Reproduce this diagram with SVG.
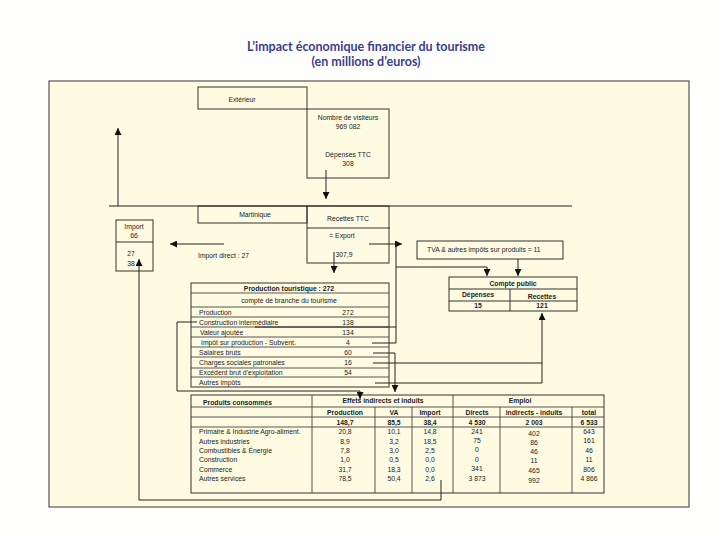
<svg xmlns="http://www.w3.org/2000/svg" width="720" height="540" viewBox="0 0 720 540">
<defs>
<style>
.t{font-family:"Liberation Sans","DejaVu Sans",sans-serif;font-size:6.8px;fill:#222}
.b{font-weight:bold}
.m{text-anchor:middle}
.title{font-family:Lato,"Liberation Sans",sans-serif;font-size:12.5px;font-weight:bold;fill:#3a3f8c;text-anchor:middle}
.box{fill:none;stroke:#333;stroke-width:1}
.ln{fill:none;stroke:#444;stroke-width:0.9}
.cn{fill:none;stroke:#222;stroke-width:1}
</style>
<marker id="ah" viewBox="0 0 10 10" refX="10" refY="5" markerWidth="7" markerHeight="7" markerUnits="userSpaceOnUse" orient="auto">
<path d="M0,0 L10,5 L0,10 z" fill="#111"/>
</marker>
</defs>
<rect x="0" y="0" width="720" height="540" fill="#fefefc"/>
<text class="title" x="366" y="51">L’impact économique financier du tourisme</text>
<text class="title" x="366" y="66">(en millions d’euros)</text>
<rect x="49" y="81" width="640" height="426" fill="#fefbe2" stroke="#555" stroke-width="1.2"/>

<g id="exterieur">
<rect class="box" x="198" y="87" width="109" height="22"/>
<text class="t m" x="242" y="102">Extérieur</text>
</g>
<g id="visiteurs">
<rect class="box" x="307" y="109" width="82" height="69"/>
<text class="t m" x="348" y="120">Nombre de visiteurs</text>
<text class="t m" x="348" y="129">969 082</text>
<text class="t m" x="348" y="157">Dépenses TTC</text>
<text class="t m" x="348" y="165.5">308</text>
</g>
<g id="martinique">
<rect class="box" x="198" y="206" width="109" height="17"/>
<text class="t m" x="255" y="217">Martinique</text>
</g>
<g id="recettes">
<rect class="box" x="307" y="206" width="82" height="57"/>
<line class="box" x1="307" y1="228" x2="390" y2="228"/>
<text class="t m" x="348" y="221">Recettes TTC</text>
<text class="t m" x="342" y="237.5">= Export</text>
<text class="t m" x="344" y="257">307,9</text>
</g>
<g id="import">
<rect class="box" x="116" y="220" width="37" height="51"/>
<line class="box" x1="116" y1="242" x2="153" y2="242"/>
<text class="t m" x="134" y="228.5">Import</text>
<text class="t m" x="134" y="237.5">66</text>
<text class="t m" x="131" y="256">27</text>
<text class="t m" x="131" y="266">38</text>
</g>
<g id="import-direct">
<text class="t" x="198" y="258">Import direct : 27</text>
</g>
<g id="tva">
<rect class="box" x="417" y="241" width="146" height="18"/>
<text class="t" x="427" y="252">TVA &amp; autres impôts sur produits  = 11</text>
</g>
<g id="compte-public">
<rect class="box" x="449" y="277" width="128" height="34"/>
<line class="box" x1="449" y1="289" x2="577" y2="289"/>
<line class="box" x1="449" y1="301" x2="577" y2="301"/>
<line class="box" x1="510" y1="289" x2="510" y2="311"/>
<text class="t b m" x="513" y="286">Compte public</text>
<text class="t b m" x="478" y="296.5">Dépenses</text>
<text class="t b m" x="542" y="298.5">Recettes</text>
<text class="t b m" x="478" y="308">15</text>
<text class="t b m" x="542" y="308">121</text>
</g>
<g id="production">
<rect class="box" x="191" y="283" width="198" height="104"/>
<g class="ln">
<line x1="191" y1="293" x2="389" y2="293"/>
<line x1="191" y1="307" x2="389" y2="307"/>
<line x1="191" y1="317" x2="389" y2="317"/>
<line x1="191" y1="327" x2="389" y2="327"/>
<line x1="191" y1="337" x2="389" y2="337"/>
<line x1="191" y1="347" x2="389" y2="347"/>
<line x1="191" y1="357" x2="389" y2="357"/>
<line x1="191" y1="368" x2="389" y2="368"/>
<line x1="191" y1="377" x2="389" y2="377"/>
</g>
<text class="t b m" x="289" y="290.5">Production touristique  : 272</text>
<text class="t m" x="289" y="303">compte de branche du tourisme</text>
<text class="t" x="199" y="314.5">Production</text>
<text class="t" x="199" y="324.5">Construction intermédiaire</text>
<text class="t" x="200" y="334.5">Valeur ajoutée</text>
<text class="t" x="201" y="344.5">Impôt sur production - Subvent.</text>
<text class="t" x="199" y="354.5">Salaires bruts</text>
<text class="t" x="199" y="364.5">Charges sociales patronales</text>
<text class="t" x="199" y="374.5">Excédent brut d’exploitation</text>
<text class="t" x="199" y="384.5">Autres impôts</text>
<text class="t m" x="348" y="314.5">272</text>
<text class="t m" x="348" y="324.5">138</text>
<text class="t m" x="348" y="334.5">134</text>
<text class="t m" x="348" y="344.5">4</text>
<text class="t m" x="348" y="354.5">60</text>
<text class="t m" x="348" y="364.5">16</text>
<text class="t m" x="348" y="374.5">54</text>
</g>
<g id="effets">
<rect class="box" x="191" y="395" width="413" height="98"/>
<g class="ln">
<line x1="191" y1="407" x2="604" y2="407"/>
<line x1="191" y1="417" x2="604" y2="417"/>
<line x1="191" y1="427" x2="604" y2="427"/>
<line x1="312" y1="395" x2="312" y2="493"/>
<line x1="375" y1="407" x2="375" y2="493"/>
<line x1="412" y1="407" x2="412" y2="493"/>
<line x1="453" y1="395" x2="453" y2="493"/>
<line x1="500" y1="407" x2="500" y2="493"/>
<line x1="572" y1="407" x2="572" y2="493"/>
</g>
<text class="t b" x="203" y="405">Produits consommés</text>
<text class="t b m" x="383" y="402.5">Effets indirects et induits</text>
<text class="t b m" x="520" y="403">Emploi</text>
<text class="t b m" x="345" y="414.5">Production</text>
<text class="t b m" x="394" y="414.5">VA</text>
<text class="t b m" x="430" y="414.5">Import</text>
<text class="t b m" x="477" y="414.5">Directs</text>
<text class="t b m" x="534" y="414.5">indirects - induits</text>
<text class="t b m" x="589" y="414.5">total</text>
<text class="t b m" x="345" y="424.5">148,7</text>
<text class="t b m" x="394" y="424.5">85,5</text>
<text class="t b m" x="430" y="424.5">38,4</text>
<text class="t b m" x="477" y="424.5">4 530</text>
<text class="t b m" x="534" y="424.5">2 003</text>
<text class="t b m" x="589" y="424.5">6 533</text>
<g>
<text class="t" x="199" y="434">Primaire &amp; Industrie Agro-aliment.</text>
<text class="t" x="199" y="443.5">Autres industries</text>
<text class="t" x="199" y="452.5">Combustibles &amp; Énergie</text>
<text class="t" x="199" y="462">Construction</text>
<text class="t" x="199" y="471.5">Commerce</text>
<text class="t" x="199" y="481">Autres services</text>
</g>
<g class="t m">
<text x="345" y="434">20,8</text><text x="394" y="434">10,1</text><text x="430" y="434">14,8</text><text x="477" y="434">241</text><text x="534" y="435.5">402</text><text x="589" y="433.5">643</text>
<text x="345" y="443.5">8,9</text><text x="394" y="443.5">3,2</text><text x="430" y="443.5">18,5</text><text x="477" y="442.5">75</text><text x="534" y="444.5">86</text><text x="589" y="443">161</text>
<text x="345" y="452.5">7,8</text><text x="394" y="452.5">3,0</text><text x="430" y="452.5">2,5</text><text x="477" y="451.5">0</text><text x="534" y="453.5">46</text><text x="589" y="452.5">46</text>
<text x="345" y="462">1,0</text><text x="394" y="462">0,5</text><text x="430" y="462">0,0</text><text x="477" y="462">0</text><text x="534" y="463">11</text><text x="589" y="462">11</text>
<text x="345" y="471.5">31,7</text><text x="394" y="471.5">18,3</text><text x="430" y="471.5">0,0</text><text x="477" y="471">341</text><text x="534" y="473">465</text><text x="589" y="472">806</text>
<text x="345" y="481">78,5</text><text x="394" y="481">50,4</text><text x="430" y="481">2,6</text><text x="477" y="481">3 873</text><text x="534" y="483">992</text><text x="589" y="481">4 866</text>
</g>
</g>

<g id="connectors" class="cn">
<line x1="109" y1="206" x2="572" y2="206"/>
<line x1="118" y1="206" x2="118" y2="128" marker-end="url(#ah)"/>
<line x1="326" y1="170" x2="326" y2="199" marker-end="url(#ah)"/>
<line x1="224" y1="244" x2="170" y2="244" marker-end="url(#ah)"/>
<line x1="369" y1="244" x2="402" y2="244" marker-end="url(#ah)"/>
<line x1="334" y1="252" x2="334" y2="273" marker-end="url(#ah)"/>
<line x1="518" y1="259" x2="518" y2="276" marker-end="url(#ah)"/>
<polyline points="372,343 396,343 396,244"/>
<polyline points="396,267 487,267 487,276" marker-end="url(#ah)"/>
<line x1="255" y1="327" x2="396" y2="327"/>
<polyline points="197,322 177,322 177,391 360,391 360,399" marker-end="url(#ah)"/>
<polyline points="373,353 395,353 395,392" marker-end="url(#ah)"/>
<line x1="373" y1="363" x2="542" y2="363"/>
<polyline points="375,383 542,383 542,313" marker-end="url(#ah)"/>
<polyline points="441,480 441,500 139,500 139,259" marker-end="url(#ah)"/>
</g>
</svg>
